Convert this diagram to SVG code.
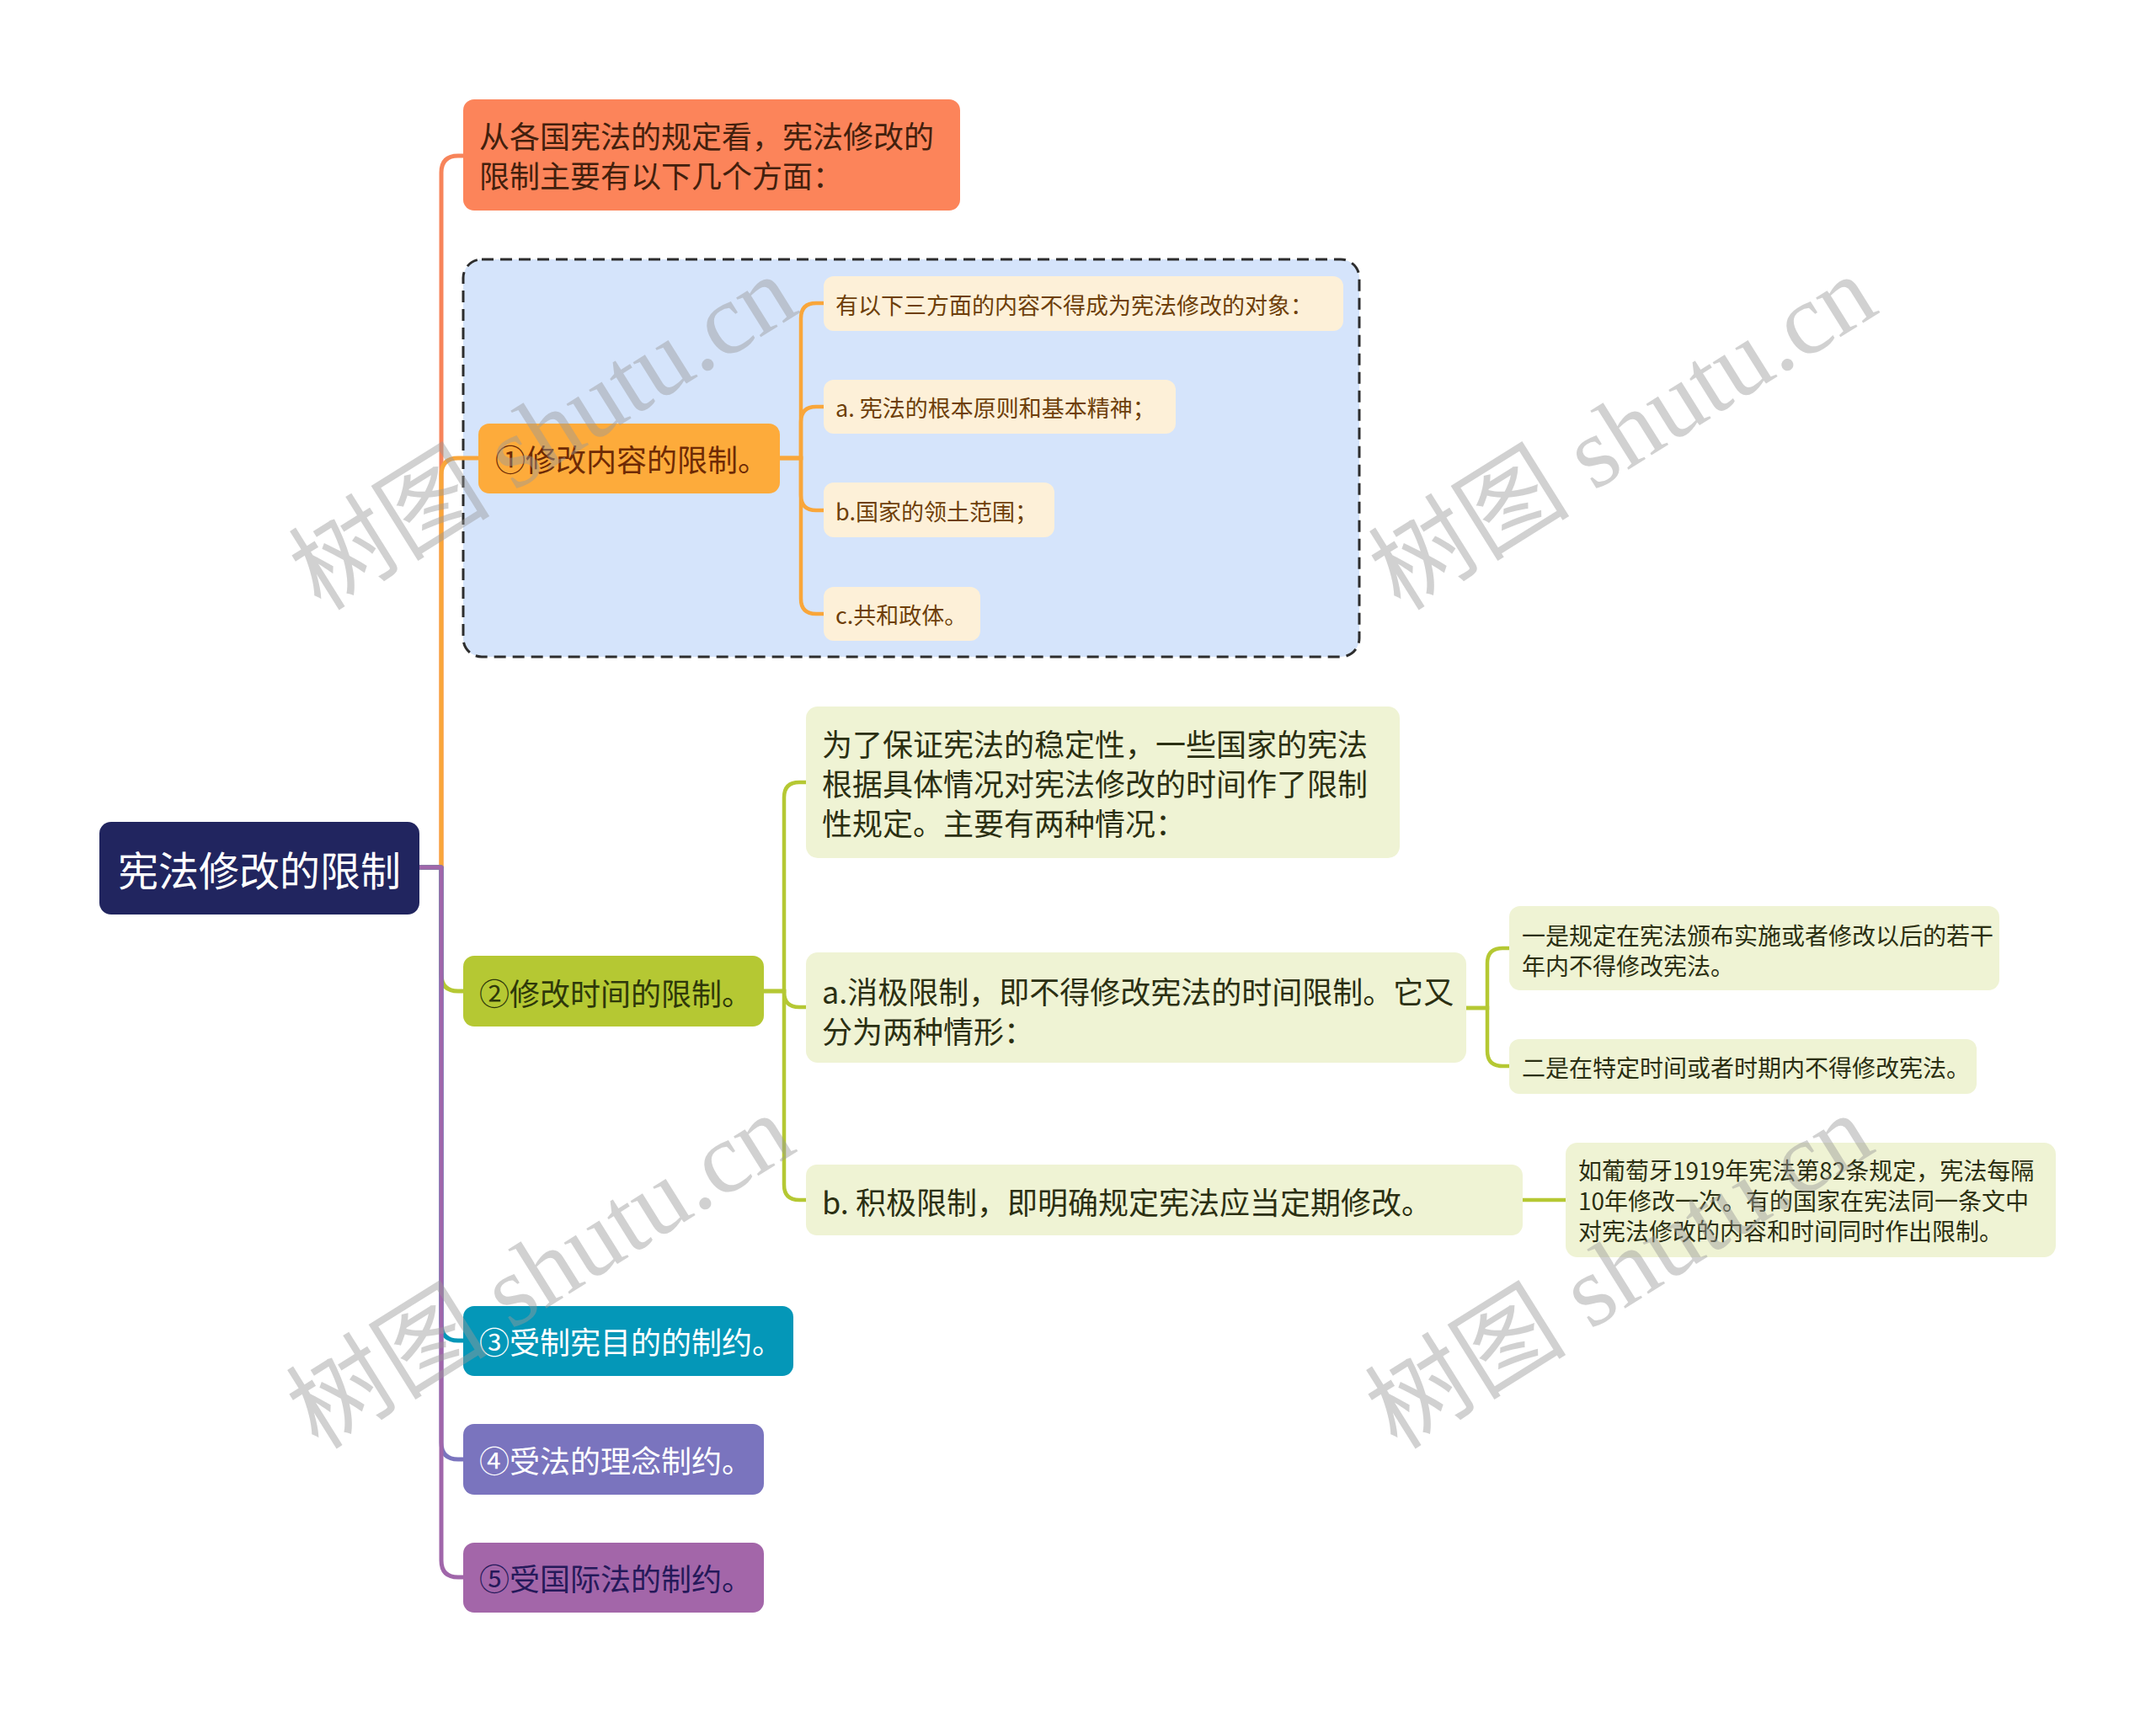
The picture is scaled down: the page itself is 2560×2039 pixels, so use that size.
<svg xmlns="http://www.w3.org/2000/svg" width="2560" height="2039" viewBox="0 0 2560 2039">
<style>
  text { font-family: "Noto Sans CJK SC", "Noto Sans", sans-serif; dominant-baseline: central; }
  .conn { fill: none; stroke-width: 5; stroke-linejoin: round; }
  .sub { fill: none; stroke-width: 4.5; }
  .t36 { font-size: 36px; }
  .t28 { font-size: 28px; }
  .t27 { font-size: 27px; }
  .cream { fill: #fdf0d8; }
  .cream-t { fill: #6e3f0a; }
  .lg { fill: #eff3d4; }
  .lg-t { fill: #2b2f12; }
  .wm { font-family: "Liberation Serif", "Noto Sans CJK SC", serif; font-size: 120px; fill: #9a9a9a; fill-opacity: 0.45; text-anchor: middle; }
</style>
<rect width="2560" height="2039" fill="#ffffff"/>

<g id="frame-content">
  <rect x="550" y="308" width="1064" height="472" rx="22" fill="#d5e4fb" stroke="#2d2d2d" stroke-width="3" stroke-dasharray="14 8"/>
</g>

<g id="connectors">
  <path class="conn" stroke="#f7845a" d="M498,1030 H524 V205 Q524,185 544,185 H550"/>
  <path class="conn" stroke="#f9a63a" d="M498,1030 H524 V564 Q524,544 544,544 H568"/>
  <path class="conn" stroke="#b5c833" d="M498,1030 H524 V1157 Q524,1177 544,1177 H550"/>
  <path class="conn" stroke="#0497b8" d="M498,1030 H524 V1572 Q524,1592 544,1592 H550"/>
  <path class="conn" stroke="#7a74be" d="M498,1030 H524 V1713 Q524,1733 544,1733 H550"/>
  <path class="conn" stroke="#a066aa" d="M498,1030 H524 V1853 Q524,1873 544,1873 H550"/>

  <path class="sub" stroke="#f9a63a" d="M926,544 H951 V378 Q951,360 969,360 H978"/>
  <path class="sub" stroke="#f9a63a" d="M926,544 H951 V501 Q951,483 969,483 H978"/>
  <path class="sub" stroke="#f9a63a" d="M926,544 H951 V588 Q951,606 969,606 H978"/>
  <path class="sub" stroke="#f9a63a" d="M926,544 H951 V711 Q951,729 969,729 H978"/>

  <path class="sub" stroke="#b5c833" d="M907,1177 H931 V947 Q931,929 949,929 H957"/>
  <path class="sub" stroke="#b5c833" d="M907,1177 H931 V1178 Q931,1196 949,1196 H957"/>
  <path class="sub" stroke="#b5c833" d="M907,1177 H931 V1407 Q931,1425 949,1425 H957"/>

  <path class="sub" stroke="#b5c833" d="M1741,1197 H1766 V1144 Q1766,1126 1784,1126 H1792"/>
  <path class="sub" stroke="#b5c833" d="M1741,1197 H1766 V1248 Q1766,1266 1784,1266 H1792"/>
  <path class="sub" stroke="#b5c833" d="M1808,1425 H1859"/>
</g>

<g id="root">
  <rect x="118" y="976" width="380" height="110" rx="14" fill="#21255f"/>
  <text x="308" y="1031" font-size="48" fill="#ffffff" text-anchor="middle">宪法修改的限制</text>
</g>

<g id="n-intro">
  <rect x="550" y="118" width="590" height="132" rx="13" fill="#fc845a"/>
  <text class="t36" x="569" y="160" fill="#42200d">从各国宪法的规定看，宪法修改的</text>
  <text class="t36" x="569" y="207" fill="#42200d">限制主要有以下几个方面：</text>
</g>

<g id="n1">
  <rect x="568" y="503" width="358" height="83" rx="13" fill="#fdab3b"/>
  <text class="t36" x="588" y="544" fill="#6e2a05">①修改内容的限制。</text>
</g>
<g id="n1-0">
  <rect class="cream" x="978" y="328" width="617" height="65" rx="12"/>
  <text class="t27 cream-t" x="992" y="361">有以下三方面的内容不得成为宪法修改的对象：</text>
</g>
<g id="n1-a">
  <rect class="cream" x="978" y="451" width="418" height="64" rx="12"/>
  <text class="t27 cream-t" x="992" y="483">a. 宪法的根本原则和基本精神；</text>
</g>
<g id="n1-b">
  <rect class="cream" x="978" y="573" width="274" height="65" rx="12"/>
  <text class="t27 cream-t" x="992" y="606">b.国家的领土范围；</text>
</g>
<g id="n1-c">
  <rect class="cream" x="978" y="697" width="186" height="64" rx="12"/>
  <text class="t27 cream-t" x="992" y="729">c.共和政体。</text>
</g>

<g id="n2">
  <rect x="550" y="1135" width="357" height="84" rx="13" fill="#b5c833"/>
  <text class="t36" x="569" y="1178" fill="#2e380a">②修改时间的限制。</text>
</g>
<g id="n2-0">
  <rect class="lg" x="957" y="839" width="705" height="180" rx="14"/>
  <text class="t36 lg-t" x="976" y="882">为了保证宪法的稳定性，一些国家的宪法</text>
  <text class="t36 lg-t" x="976" y="929">根据具体情况对宪法修改的时间作了限制</text>
  <text class="t36 lg-t" x="976" y="976">性规定。主要有两种情况：</text>
</g>
<g id="n2-a">
  <rect class="lg" x="957" y="1131" width="784" height="131" rx="14"/>
  <text class="t36 lg-t" x="976" y="1176">a.消极限制，即不得修改宪法的时间限制。它又</text>
  <text class="t36 lg-t" x="976" y="1223">分为两种情形：</text>
</g>
<g id="n2-a-1">
  <rect class="lg" x="1792" y="1076" width="582" height="100" rx="13"/>
  <text class="t28 lg-t" x="1807" y="1110">一是规定在宪法颁布实施或者修改以后的若干</text>
  <text class="t28 lg-t" x="1807" y="1146">年内不得修改宪法。</text>
</g>
<g id="n2-a-2">
  <rect class="lg" x="1792" y="1234" width="555" height="65" rx="12"/>
  <text class="t28 lg-t" x="1807" y="1267">二是在特定时间或者时期内不得修改宪法。</text>
</g>
<g id="n2-b">
  <rect class="lg" x="957" y="1383" width="851" height="84" rx="13"/>
  <text class="t36 lg-t" x="976" y="1426">b. 积极限制，即明确规定宪法应当定期修改。</text>
</g>
<g id="n2-b-1">
  <rect class="lg" x="1859" y="1357" width="582" height="136" rx="14"/>
  <text class="t28 lg-t" x="1874" y="1389">如葡萄牙1919年宪法第82条规定，宪法每隔</text>
  <text class="t28 lg-t" x="1874" y="1425">10年修改一次。有的国家在宪法同一条文中</text>
  <text class="t28 lg-t" x="1874" y="1461">对宪法修改的内容和时间同时作出限制。</text>
</g>

<g id="n3">
  <rect x="550" y="1551" width="392" height="83" rx="13" fill="#0497b8"/>
  <text class="t36" x="569" y="1592" fill="#ffffff">③受制宪目的的制约。</text>
</g>
<g id="n4">
  <rect x="550" y="1691" width="357" height="84" rx="13" fill="#7a74be"/>
  <text class="t36" x="569" y="1733" fill="#ffffff">④受法的理念制约。</text>
</g>
<g id="n5">
  <rect x="550" y="1832" width="357" height="83" rx="13" fill="#a366a9"/>
  <text class="t36" x="569" y="1873" fill="#25195a">⑤受国际法的制约。</text>
</g>

<g id="watermarks">
  <text class="wm" transform="translate(645,514) rotate(-32)">树图 shutu.cn</text>
  <text class="wm" transform="translate(1927,514) rotate(-32)">树图 shutu.cn</text>
  <text class="wm" transform="translate(642,1510) rotate(-32)">树图 shutu.cn</text>
  <text class="wm" transform="translate(1923,1510) rotate(-32)">树图 shutu.cn</text>
</g>
</svg>
